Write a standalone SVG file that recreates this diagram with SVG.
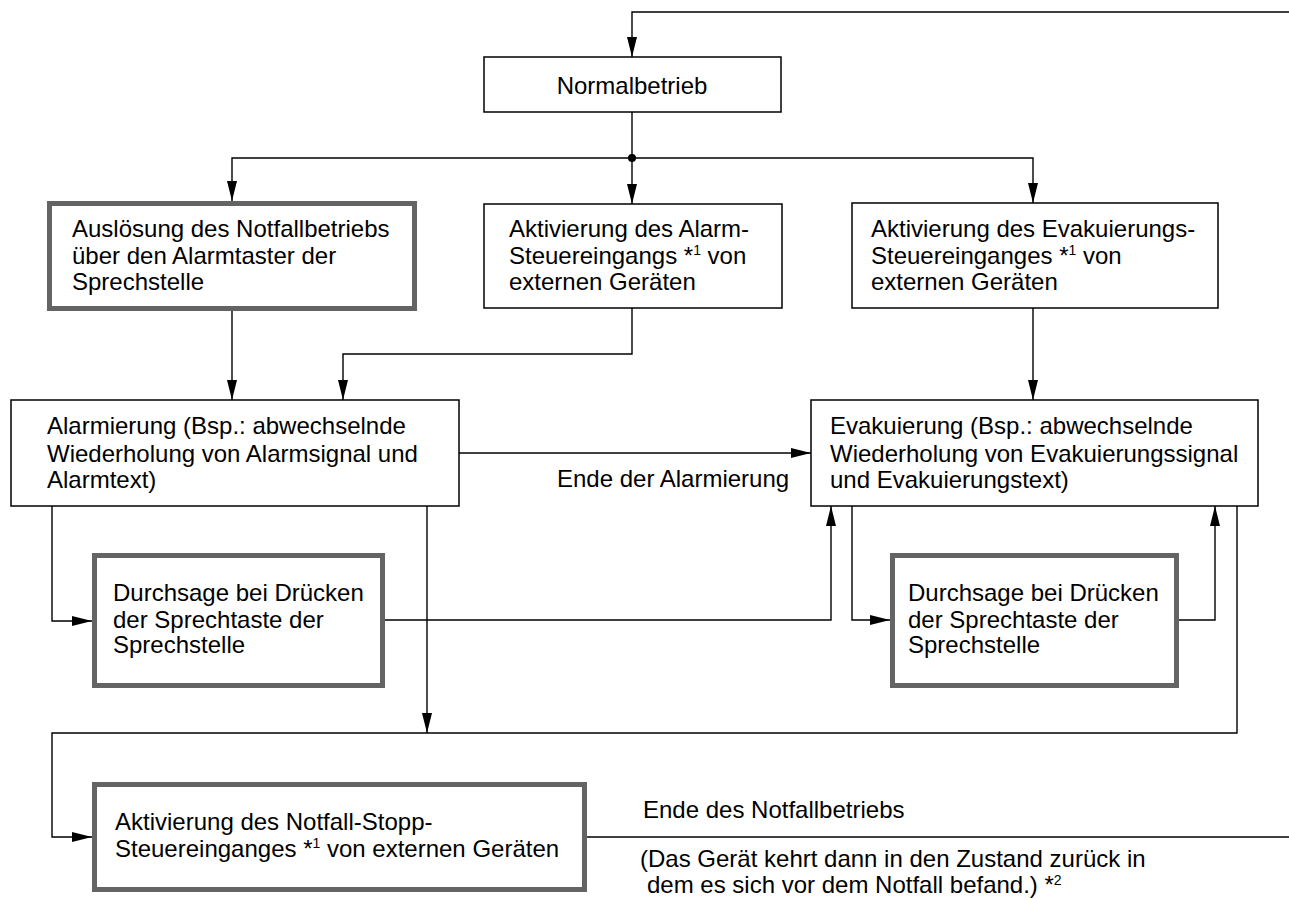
<svg xmlns="http://www.w3.org/2000/svg" width="1289" height="899" viewBox="0 0 1289 899">
<style>
  .box { fill: #fff; stroke: #000; stroke-width: 1.5; }
  .tbox { fill: #fff; stroke: #646464; stroke-width: 5; }
  .t { font-family: "Liberation Sans", Arial, sans-serif; font-size: 24px; fill: #000; }
  .c { fill: none; stroke: #000; stroke-width: 1.4; }
  .sup { font-size: 14px; }
</style>
<defs>
  <marker id="ah" markerUnits="userSpaceOnUse" markerWidth="21" markerHeight="11" refX="20" refY="5" orient="auto">
    <path d="M0,0 L20,5 L0,10 z" fill="#000"/>
  </marker>
</defs>
<rect width="1289" height="899" fill="#fff"/>

<g id="connectors">
  <polyline class="c" points="1289,12 632,12 632,57" marker-end="url(#ah)"/>
  <polyline class="c" points="632,112 632,204" marker-end="url(#ah)"/>
  <circle cx="632" cy="158" r="4" fill="#000"/>
  <polyline class="c" points="632,158 232,158 232,201" marker-end="url(#ah)"/>
  <polyline class="c" points="632,158 1033,158 1033,203" marker-end="url(#ah)"/>
  <polyline class="c" points="232,311 232,400" marker-end="url(#ah)"/>
  <polyline class="c" points="632,308 632,354 343,354 343,400" marker-end="url(#ah)"/>
  <polyline class="c" points="1033,308 1033,400" marker-end="url(#ah)"/>
  <polyline class="c" points="459,453 811,453" marker-end="url(#ah)"/>
  <text class="t" x="557" y="487">Ende der Alarmierung</text>
  <polyline class="c" points="52,506 52,621 92,621" marker-end="url(#ah)"/>
  <polyline class="c" points="385,620 831,620 831,506" marker-end="url(#ah)"/>
  <polyline class="c" points="427,506 427,733" marker-end="url(#ah)"/>
  <polyline class="c" points="852,506 852,620 890,620" marker-end="url(#ah)"/>
  <polyline class="c" points="1179,620 1215,620 1215,506" marker-end="url(#ah)"/>
  <polyline class="c" points="1237,506 1237,733 52,733 52,837 92,837" marker-end="url(#ah)"/>
  <polyline class="c" points="587,837 1289,837"/>
  <text class="t" x="643" y="818">Ende des Notfallbetriebs</text>
  <text class="t" x="640" y="867">(Das Gerät kehrt dann in den Zustand zurück in</text>
  <text class="t" x="647" y="893">dem es sich vor dem Notfall befand.) *<tspan class="sup" dy="-8">2</tspan></text>
</g>

<g id="normalbetrieb">
  <rect class="box" x="484" y="57" width="297" height="55"/>
  <text class="t" x="632" y="94" text-anchor="middle">Normalbetrieb</text>
</g>

<g id="ausloesung">
  <rect class="tbox" x="49.5" y="203.5" width="365" height="105"/>
  <text class="t" x="72" y="237">Auslösung des Notfallbetriebs</text>
  <text class="t" x="72" y="264">über den Alarmtaster der</text>
  <text class="t" x="72" y="290">Sprechstelle</text>
</g>

<g id="alarm-steuereingang">
  <rect class="box" x="484" y="204" width="298" height="104"/>
  <text class="t" x="509" y="237">Aktivierung des Alarm-</text>
  <text class="t" x="509" y="264">Steuereingangs *<tspan class="sup" dy="-9">1</tspan><tspan dy="9"> von</tspan></text>
  <text class="t" x="509" y="290">externen Geräten</text>
</g>

<g id="evak-steuereingang">
  <rect class="box" x="852" y="203" width="366" height="105"/>
  <text class="t" x="871" y="237">Aktivierung des Evakuierungs-</text>
  <text class="t" x="871" y="264">Steuereinganges *<tspan class="sup" dy="-9">1</tspan><tspan dy="9"> von</tspan></text>
  <text class="t" x="871" y="290">externen Geräten</text>
</g>

<g id="alarmierung">
  <rect class="box" x="11" y="400" width="448" height="106"/>
  <text class="t" x="47" y="434">Alarmierung (Bsp.: abwechselnde</text>
  <text class="t" x="47" y="462">Wiederholung von Alarmsignal und</text>
  <text class="t" x="47" y="488">Alarmtext)</text>
</g>

<g id="evakuierung">
  <rect class="box" x="811" y="400" width="447" height="106"/>
  <text class="t" x="830" y="434">Evakuierung (Bsp.: abwechselnde</text>
  <text class="t" x="830" y="462">Wiederholung von Evakuierungssignal</text>
  <text class="t" x="830" y="488">und Evakuierungstext)</text>
</g>

<g id="durchsage-alarm">
  <rect class="tbox" x="94.5" y="555.5" width="288" height="130"/>
  <text class="t" x="113" y="601">Durchsage bei Drücken</text>
  <text class="t" x="113" y="628">der Sprechtaste der</text>
  <text class="t" x="113" y="653">Sprechstelle</text>
</g>

<g id="durchsage-evak">
  <rect class="tbox" x="892.5" y="555.5" width="284" height="130"/>
  <text class="t" x="908" y="601">Durchsage bei Drücken</text>
  <text class="t" x="908" y="628">der Sprechtaste der</text>
  <text class="t" x="908" y="653">Sprechstelle</text>
</g>

<g id="notfall-stopp">
  <rect class="tbox" x="94.5" y="784.5" width="490" height="105"/>
  <text class="t" x="115" y="830">Aktivierung des Notfall-Stopp-</text>
  <text class="t" x="115" y="857">Steuereinganges *<tspan class="sup" dy="-9">1</tspan><tspan dy="9"> von externen Geräten</tspan></text>
</g>
</svg>
